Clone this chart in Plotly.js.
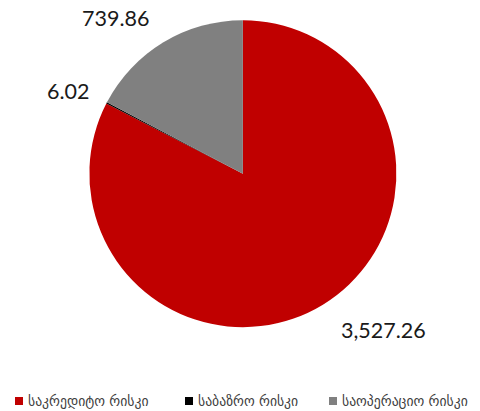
<!DOCTYPE html>
<html>
<head>
<meta charset="utf-8">
<script src="https://cdn.plot.ly/plotly-3.0.1.min.js"></script>
<style>html,body{margin:0;padding:0;background:#fff}#chart{width:480px;height:411px}</style>
</head>
<body>
<div id="chart"></div>
<script>
const categories = ["საკრედიტო რისკი", "საბაზრო რისკი", "საოპერაციო რისკი"];
const values = [3527.26, 6.02, 739.86];
const colors = ["#C00000", "#000000", "#808080"];

// value label anchor positions (paper coords)
const labelX = [0.798, 0.142, 0.240];
const labelY = [0.197, 0.779, 0.955];
// legend swatch left edges (px)
const legendX = [15, 185, 329];
const legendYpx = 401;

const W = 480, H = 411;
const fmt = v => v.toLocaleString('en-US', {minimumFractionDigits: 2, maximumFractionDigits: 2});

const data = [{
  type: 'pie',
  labels: categories,
  values: values,
  marker: {colors: colors, line: {color: '#ffffff', width: 0}},
  sort: false,
  direction: 'clockwise',
  rotation: 0,
  textinfo: 'none',
  hoverinfo: 'label+value',
  showlegend: false,
  domain: {x: [0.186, 0.826], y: [0.204, 0.951]}
}];

const annotations = values.map((v, i) => ({
  text: fmt(v), x: labelX[i], y: labelY[i], xref: 'paper', yref: 'paper',
  xanchor: 'center', yanchor: 'middle', showarrow: false,
  font: {size: 21.5, family: 'Lato, sans-serif', color: '#1a1a1a'}
}));
const shapes = [];
categories.forEach((c, i) => {
  const x0 = legendX[i];
  shapes.push({type: 'rect', xref: 'paper', yref: 'paper',
    x0: x0 / W, x1: (x0 + 8) / W, y0: 1 - (legendYpx + 4) / H, y1: 1 - (legendYpx - 4) / H,
    fillcolor: colors[i], line: {width: 0}});
  annotations.push({text: c, x: (x0 + 11) / W, y: 1 - legendYpx / H, xref: 'paper', yref: 'paper',
    xanchor: 'left', yanchor: 'middle', showarrow: false,
    font: {size: 13.7, family: '"DejaVu Sans", sans-serif', color: '#404040'}});
});

const layout = {
  width: W, height: H,
  margin: {l: 0, r: 0, t: 0, b: 0},
  paper_bgcolor: '#fff',
  showlegend: false,
  annotations: annotations,
  shapes: shapes
};

Plotly.newPlot('chart', data, layout, {displayModeBar: false, staticPlot: true});
</script>
</body>
</html>
